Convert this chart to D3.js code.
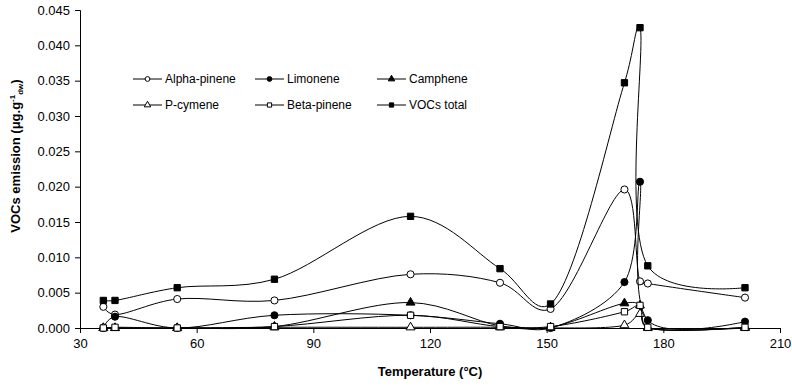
<!DOCTYPE html>
<html>
<head>
<meta charset="utf-8">
<script src="https://cdn.jsdelivr.net/npm/d3@7"></script>
<style>
  body { margin: 0; background: #fff; }
  svg { font-family: "Liberation Sans", Arial, sans-serif; }
</style>
</head>
<body>
<svg id="chart" width="792" height="387"></svg>
<script>
(function(){
    // temperatures (°C) at which samples were taken
    var temps = [36, 39, 55, 80, 115, 138, 151, 170, 174, 176, 201];

    var alphaPinene = [0.0030, 0.0019, 0.0041, 0.0039, 0.0076, 0.0064, 0.0027, 0.0196, 0.0066, 0.0063, 0.0043];
    var limonene    = [0.0000, 0.0016, 0.0000, 0.0018, 0.0018, 0.0006, 0.0000, 0.0065, 0.0207, 0.0011, 0.0009];
    var camphene    = [0.0000, 0.0000, 0.0000, 0.0002, 0.0036, 0.0003, 0.0001, 0.0035, 0.0032, 0.0001, 0.0001];
    var pCymene     = [0.0000, 0.0000, 0.0000, 0.0001, 0.0001, 0.0001, 0.0000, 0.0004, 0.0020, 0.0000, 0.0000];
    var betaPinene  = [0.0000, 0.0001, 0.0000, 0.0002, 0.0018, 0.0002, 0.0002, 0.0023, 0.0032, 0.0001, 0.0001];
    var vocsTotal   = [0.0039, 0.0039, 0.0057, 0.0069, 0.0158, 0.0084, 0.0034, 0.0347, 0.0425, 0.0088, 0.0057];

    var xTicks = [30, 60, 90, 120, 150, 180, 210];
    var yTicks = [0, 0.005, 0.010, 0.015, 0.020, 0.025, 0.030, 0.035, 0.040, 0.045];

    var series = [
        {name: "Alpha-pinene", values: alphaPinene, shape: "circle",   filled: false},
        {name: "Limonene",     values: limonene,    shape: "circle",   filled: true},
        {name: "Camphene",     values: camphene,    shape: "triangle", filled: true},
        {name: "P-cymene",     values: pCymene,     shape: "triangle", filled: false},
        {name: "Beta-pinene",  values: betaPinene,  shape: "square",   filled: false},
        {name: "VOCs total",   values: vocsTotal,   shape: "square",   filled: true}
    ];

    var svg = d3.select("#chart");

    var x = d3.scaleLinear().domain([30, 210]).range([80, 780]);
    var y = d3.scaleLinear().domain([0, 0.045]).range([328, 10]);

    // axes
    svg.append("g")
        .attr("transform", "translate(0,328)")
        .call(d3.axisBottom(x).tickValues(xTicks).tickSize(5).tickPadding(6))
        .call(styleAxis);

    svg.append("g")
        .attr("transform", "translate(80,0)")
        .call(d3.axisLeft(y).tickValues(yTicks).tickSize(5).tickPadding(5)
            .tickFormat(d3.format(".3f")))
        .call(styleAxis);

    function styleAxis(g){
        g.select(".domain").attr("stroke", "#000").attr("stroke-width", 1);
        g.selectAll(".tick line").attr("stroke", "#000");
        g.selectAll(".tick text")
            .attr("fill", "#000")
            .style("font-size", "13px");
    }

    svg.append("text")
        .attr("x", 430)
        .attr("y", 376)
        .attr("text-anchor", "middle")
        .style("font-size", "13px")
        .style("font-weight", "bold")
        .text("Temperature (°C)");

    var yTitle = svg.append("text")
        .attr("transform", "translate(20,156) rotate(-90)")
        .attr("text-anchor", "middle")
        .style("font-size", "13px")
        .style("font-weight", "bold");
    yTitle.append("tspan").text("VOCs emission (μg.g");
    yTitle.append("tspan").attr("dy", -5).style("font-size", "8px").text("-1");
    yTitle.append("tspan").attr("dy", 8).style("font-size", "8px").text("dw");
    yTitle.append("tspan").attr("dy", -3).text(")");

    // smoothed lines like the spreadsheet; alpha keeps the sharp peak from overshooting too much
    var line = d3.line()
        .x(function(d){ return x(d[0]); })
        .y(function(d){ return y(d[1]); })
        .curve(d3.curveCatmullRom.alpha(0.3));

    function symbolPath(shape, size){
        var type = shape === "circle" ? d3.symbolCircle :
                   shape === "triangle" ? d3.symbolTriangle : d3.symbolSquare;
        return d3.symbol().type(type).size(size)();
    }

    series.forEach(function(s){
        var pts = temps.map(function(t, i){ return [t, s.values[i]]; });
        var g = svg.append("g");

        g.append("path")
            .datum(pts)
            .attr("fill", "none")
            .attr("stroke", "#000")
            .attr("stroke-width", 1)
            .attr("d", line);

        g.selectAll("path.marker")
            .data(pts)
            .enter()
            .append("path")
            .attr("class", "marker")
            .attr("d", symbolPath(s.shape, s.shape === "triangle" ? 34 : 40))
            .attr("transform", function(d){ return "translate(" + x(d[0]) + "," + y(d[1]) + ")"; })
            .attr("fill", s.filled ? "#000" : "#fff")
            .attr("stroke", "#000")
            .attr("stroke-width", 1);
    });

    // legend, 3 per row
    var legend = svg.append("g");
    series.forEach(function(s, i){
        var lx = 133 + (i % 3) * 122,
            ly = 79 + Math.floor(i / 3) * 26;
        var item = legend.append("g").attr("transform", "translate(" + lx + "," + ly + ")");
        item.append("line")
            .attr("x1", 0).attr("x2", 29)
            .attr("y1", 0).attr("y2", 0)
            .attr("stroke", "#000");
        item.append("path")
            .attr("d", symbolPath(s.shape, 18))
            .attr("transform", "translate(14.5,0)")
            .attr("fill", s.filled ? "#000" : "#fff")
            .attr("stroke", "#000");
        item.append("text")
            .attr("x", 32)
            .attr("y", 4)
            .style("font-size", "12px")
            .text(s.name);
    });
})();
</script>
</body>
</html>
